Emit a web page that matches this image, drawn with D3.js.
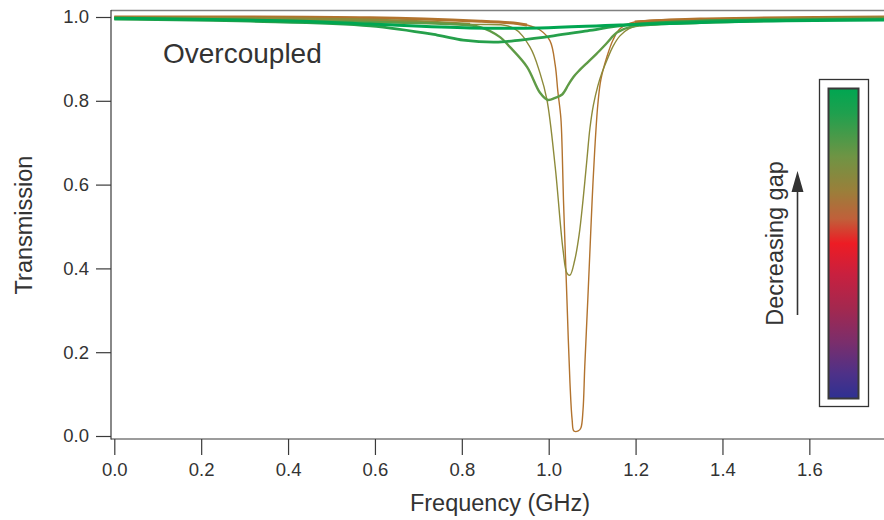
<!DOCTYPE html>
<html>
<head>
<meta charset="utf-8">
<script src="https://cdn.jsdelivr.net/npm/d3@7"></script>
<style>
  html, body { margin: 0; padding: 0; background: #fff; }
  svg { display: block; font-family: "Liberation Sans", Arial, sans-serif; }
</style>
</head>
<body>
<svg id="chart" width="884" height="520"></svg>
<script>
// ---- data ----
const xTicks = [0.0, 0.2, 0.4, 0.6, 0.8, 1.0, 1.2, 1.4, 1.6];
const yTicks = [0.0, 0.2, 0.4, 0.6, 0.8, 1.0];

const freqA = [0, 0.589, 0.842, 0.911, 0.950, 0.980, 1.003, 1.015, 1.021, 1.028, 1.031, 1.034, 1.038, 1.042, 1.049, 1.054, 1.058, 1.068, 1.074, 1.079, 1.083, 1.090, 1.095, 1.100, 1.106, 1.113, 1.120, 1.134, 1.148, 1.164, 1.198, 1.348, 1.772];
const transA = [1.0, 0.998, 0.990, 0.986, 0.981, 0.969, 0.943, 0.885, 0.823, 0.759, 0.683, 0.563, 0.444, 0.325, 0.126, 0.038, 0.012, 0.012, 0.019, 0.062, 0.165, 0.325, 0.444, 0.563, 0.683, 0.790, 0.850, 0.905, 0.945, 0.972, 0.988, 0.995, 1.0];

const freqB = [0, 0.589, 0.819, 0.918, 0.957, 0.980, 0.996, 1.015, 1.033, 1.042, 1.049, 1.060, 1.070, 1.079, 1.088, 1.095, 1.103, 1.113, 1.123, 1.134, 1.148, 1.164, 1.185, 1.210, 1.348, 1.772];
const transB = [0.998, 0.993, 0.983, 0.974, 0.928, 0.866, 0.802, 0.642, 0.444, 0.389, 0.384, 0.420, 0.480, 0.563, 0.660, 0.735, 0.790, 0.835, 0.868, 0.897, 0.930, 0.955, 0.972, 0.981, 0.990, 0.998];

const freqC = [0, 0.589, 0.773, 0.842, 0.888, 0.911, 0.950, 0.980, 0.998, 1.015, 1.031, 1.045, 1.057, 1.070, 1.088, 1.110, 1.134, 1.157, 1.187, 1.348, 1.772];
const transC = [0.997, 0.988, 0.983, 0.976, 0.952, 0.928, 0.881, 0.819, 0.802, 0.807, 0.815, 0.838, 0.857, 0.872, 0.890, 0.912, 0.938, 0.963, 0.976, 0.986, 0.995];

const freqD = [0, 0.313, 0.589, 0.743, 0.803, 0.877, 0.935, 1.011, 1.089, 1.181, 1.348, 1.772];
const transD = [0.995, 0.990, 0.979, 0.957, 0.945, 0.940, 0.945, 0.955, 0.967, 0.981, 0.990, 0.995];

const freqE = [0, 0.426, 0.589, 0.819, 0.980, 1.164, 1.463, 1.772];
const transE = [0.997, 0.990, 0.983, 0.974, 0.974, 0.981, 0.990, 0.993];

const seriesNames = ["A", "B", "C", "D", "E"];
const seriesFreq = [freqA, freqB, freqC, freqD, freqE];
const seriesTrans = [transA, transB, transC, transD, transE];

const xLabel = "Frequency (GHz)";
const yLabel = "Transmission";
const note = "Overcoupled";
const barLabel = "Decreasing gap";

// ---- styles ----
const seriesColor = ["#b2732e", "#8d8a3a", "#5f9b46", "#26a04b", "#00a651"];
const seriesWidth = [1.4, 1.4, 2.4, 2.8, 3.0];
const gradStops = [
  [0.00, "#00a651"], [0.08, "#1fa04e"], [0.22, "#6f9444"], [0.33, "#9a7f3a"],
  [0.42, "#c0603a"], [0.50, "#ed1c24"], [0.60, "#c8203f"], [0.71, "#a3284f"],
  [0.82, "#7a2e6c"], [0.92, "#4e3188"], [1.00, "#2e3192"]
];

const svg = d3.select("#chart");
const x = d3.scaleLinear().domain([0, 1.78]).range([114.3, 114.3 + 1.78 * 434.4]);
const y = d3.scaleLinear().domain([0, 1]).range([436, 17]);

const axisColor = "#3a3a3a";
const textColor = "#333";

// defs
const defs = svg.append("defs");
const grad = defs.append("linearGradient").attr("id", "cbar")
  .attr("x1", 0).attr("y1", 0).attr("x2", 0).attr("y2", 1);
gradStops.forEach(s => grad.append("stop").attr("offset", s[0]).attr("stop-color", s[1]));
defs.append("clipPath").attr("id", "plotclip").append("rect")
  .attr("x", 112).attr("y", 11).attr("width", 780).attr("height", 427);

// curves
const line = d3.line().x(d => x(d[0])).y(d => y(d[1])).curve(d3.curveCatmullRom.alpha(0.5));
const g = svg.append("g").attr("clip-path", "url(#plotclip)");
seriesNames.forEach((n, i) => {
  const pts = seriesFreq[i].map((f, j) => [f, seriesTrans[i][j]]);
  // noisy baseline look: thicker where the trace is near full transmission
  if (i < 2) {
    g.append("path").datum(pts)
      .attr("d", line.defined(d => d[1] > 0.975))
      .attr("fill", "none")
      .attr("stroke", seriesColor[i])
      .attr("stroke-width", 3);
    line.defined(() => true);
  }
  g.append("path").datum(pts)
    .attr("d", line)
    .attr("fill", "none")
    .attr("stroke", seriesColor[i])
    .attr("stroke-width", seriesWidth[i])
    .attr("stroke-linejoin", "round");
});

// top frame line
svg.append("line").attr("x1", 111).attr("x2", 884).attr("y1", 10.5).attr("y2", 10.5)
  .attr("stroke", "#808080").attr("stroke-width", 1.5);

// y axis
const yAxis = d3.axisLeft(y).tickValues(yTicks).tickFormat(d3.format(".1f")).tickSize(15).tickPadding(7);
const ya = svg.append("g").attr("transform", "translate(111,0)").call(yAxis);
ya.select(".domain").remove();
svg.append("line").attr("x1", 111).attr("x2", 111).attr("y1", 10).attr("y2", 439.5)
  .attr("stroke", axisColor).attr("stroke-width", 1.2);
ya.selectAll(".tick line").attr("stroke", axisColor).attr("stroke-width", 1.2);
ya.selectAll(".tick text").attr("fill", textColor).attr("font-size", 18.5)
  .attr("font-family", "Liberation Sans, Arial, sans-serif");

// x axis
const xAxis = d3.axisBottom(x).tickValues(xTicks).tickFormat(d3.format(".1f")).tickSize(16).tickPadding(8);
const xa = svg.append("g").attr("transform", "translate(0,439)").call(xAxis);
xa.select(".domain").remove();
svg.append("line").attr("x1", 111).attr("x2", 884).attr("y1", 439).attr("y2", 439)
  .attr("stroke", axisColor).attr("stroke-width", 1.2);
xa.selectAll(".tick line").attr("stroke", axisColor).attr("stroke-width", 1.2);
xa.selectAll(".tick text").attr("fill", textColor).attr("font-size", 18.5)
  .attr("font-family", "Liberation Sans, Arial, sans-serif");

// axis titles
svg.append("text").attr("x", 500).attr("y", 511).attr("text-anchor", "middle")
  .attr("font-size", 23.5).attr("fill", textColor).text(xLabel);
svg.append("text").attr("transform", "translate(32,225) rotate(-90)").attr("text-anchor", "middle")
  .attr("font-size", 23.5).attr("fill", textColor).text(yLabel);

// annotation
svg.append("text").attr("x", 163).attr("y", 63).attr("font-size", 28)
  .attr("fill", textColor).text(note);

// colour bar
svg.append("rect").attr("x", 819.5).attr("y", 79.5).attr("width", 49).attr("height", 327)
  .attr("fill", "none").attr("stroke", "#333").attr("stroke-width", 1.3);
svg.append("rect").attr("x", 828.5).attr("y", 88.5).attr("width", 30).attr("height", 310)
  .attr("fill", "url(#cbar)").attr("stroke", "#3a3a3a").attr("stroke-width", 2);

// arrow
svg.append("line").attr("x1", 797.5).attr("x2", 797.5).attr("y1", 315).attr("y2", 190)
  .attr("stroke", "#333").attr("stroke-width", 1.6);
svg.append("path").attr("d", "M797.5,171 L791.5,192 L803.5,192 Z").attr("fill", "#333");
svg.append("text").attr("transform", "translate(783,243.5) rotate(-90)").attr("text-anchor", "middle")
  .attr("font-size", 23.5).attr("fill", textColor).text(barLabel);
</script>
</body>
</html>
